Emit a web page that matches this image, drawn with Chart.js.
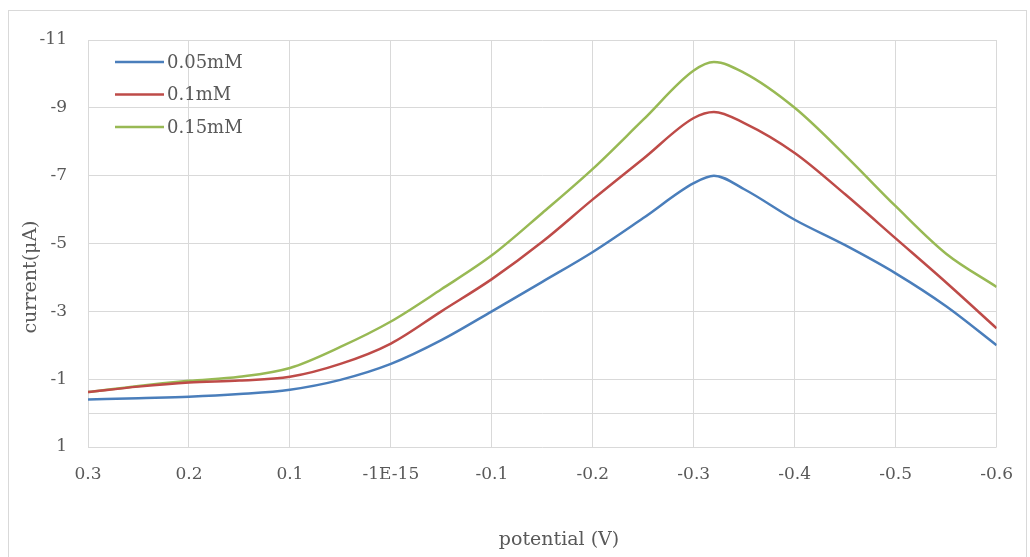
<!DOCTYPE html>
<html>
<head>
<meta charset="utf-8">
<script src="https://cdn.jsdelivr.net/npm/chart.js@4/dist/chart.umd.min.js"></script>
<style>
  body { margin: 0; background: #fff; }
  #chart { display: block; }
</style>
</head>
<body>
<canvas id="chart" width="1030" height="557"></canvas>
<script>
// potential (V) sampled along each sweep
const potential = [0.3, 0.25, 0.2, 0.15, 0.1, 0.05, 0, -0.05, -0.1, -0.15, -0.2, -0.25, -0.3, -0.32, -0.35, -0.4, -0.45, -0.5, -0.55, -0.6];

// current (uA) per concentration
const c005 = [-0.4, -0.44, -0.48, -0.56, -0.69, -0.98, -1.45, -2.15, -3.0, -3.87, -4.75, -5.75, -6.78, -7.0, -6.6, -5.7, -4.95, -4.12, -3.15, -2.0];
const c010 = [-0.62, -0.78, -0.9, -0.96, -1.07, -1.45, -2.05, -3.0, -3.95, -5.05, -6.3, -7.5, -8.7, -8.88, -8.55, -7.67, -6.45, -5.15, -3.85, -2.5];
const c015 = [-0.62, -0.8, -0.95, -1.07, -1.33, -1.95, -2.7, -3.65, -4.65, -5.9, -7.2, -8.65, -10.1, -10.35, -10.03, -9.0, -7.6, -6.1, -4.7, -3.72];

const seriesNames = ['0.05mM', '0.1mM', '0.15mM'];
const seriesColors = ['#4a7ebb', '#be4b48', '#98b954'];

const xTickValues = [0.3, 0.2, 0.1, 0, -0.1, -0.2, -0.3, -0.4, -0.5, -0.6];
const xTickLabels = ['0.3', '0.2', '0.1', '-1E-15', '-0.1', '-0.2', '-0.3', '-0.4', '-0.5', '-0.6'];
const yTickValues = [-11, -9, -7, -5, -3, -1, 1];
const yTickLabels = ['-11', '-9', '-7', '-5', '-3', '-1', '1'];

const textColor = '#595959';
const gridColor = '#d9d9d9';
const serif = "'DejaVu Serif', 'Liberation Serif', serif";

const toPoints = arr => potential.map((p, i) => ({ x: p, y: arr[i] }));

const datasets = [c005, c010, c015].map((arr, i) => ({
  label: seriesNames[i],
  data: toPoints(arr),
  borderColor: seriesColors[i],
  backgroundColor: seriesColors[i],
  borderWidth: 2.5,
  pointRadius: 0,
  cubicInterpolationMode: 'monotone',
  fill: false
}));

// frame, zero line, axis titles and in-plot legend
const extras = {
  id: 'extras',
  beforeDraw(chart) {
    const ctx = chart.ctx;
    ctx.save();
    ctx.fillStyle = '#fff';
    ctx.fillRect(0, 0, chart.width, chart.height);
    ctx.strokeStyle = '#d9d9d9';
    ctx.lineWidth = 1;
    ctx.strokeRect(8.5, 10.5, 1018, 560);
    ctx.restore();
  },
  beforeDatasetsDraw(chart) {
    const ctx = chart.ctx;
    const y0 = Math.round(chart.scales.y.getPixelForValue(0)) + 0.5;
    ctx.save();
    ctx.strokeStyle = gridColor;
    ctx.lineWidth = 1;
    ctx.beginPath();
    ctx.moveTo(chart.chartArea.left, y0);
    ctx.lineTo(chart.chartArea.right, y0);
    ctx.stroke();
    ctx.restore();
  },
  afterDraw(chart) {
    const ctx = chart.ctx;
    ctx.save();
    ctx.fillStyle = textColor;
    ctx.font = '19px ' + serif;
    ctx.textAlign = 'center';
    ctx.textBaseline = 'middle';
    ctx.fillText('potential (V)', 559, 540);
    ctx.translate(31, 277);
    ctx.rotate(-Math.PI / 2);
    ctx.fillText('current(μA)', 0, 0);
    ctx.restore();

    // legend
    ctx.save();
    ctx.font = '18px ' + serif;
    ctx.textBaseline = 'middle';
    ctx.textAlign = 'left';
    chart.data.datasets.forEach((ds, i) => {
      const y = 62 + i * 32.5;
      ctx.strokeStyle = ds.borderColor;
      ctx.lineWidth = 2.5;
      ctx.beginPath();
      ctx.moveTo(115, y);
      ctx.lineTo(164, y);
      ctx.stroke();
      ctx.fillStyle = textColor;
      ctx.fillText(ds.label, 167, y + 1);
    });
    ctx.restore();
  }
};

const ctx = document.getElementById('chart').getContext('2d');
const chart = new Chart(ctx, {
  type: 'line',
  data: { datasets },
  options: {
    responsive: false,
    animation: false,
    layout: { padding: { left: 0, top: 40, right: 33, bottom: 0 } },
    plugins: {
      legend: { display: false },
      tooltip: { enabled: false }
    },
    scales: {
      x: {
        type: 'linear',
        reverse: true,
        min: -0.6,
        max: 0.3,
        afterBuildTicks: scale => { scale.ticks = xTickValues.map(v => ({ value: v })); },
        afterFit: scale => { scale.height = 110; },
        grid: { color: gridColor, drawTicks: false },
        border: { display: false },
        ticks: {
          padding: 17,
          color: textColor,
          font: { family: serif, size: 17 },
          maxRotation: 0,
          callback: (v, i) => xTickLabels[i]
        }
      },
      y: {
        type: 'linear',
        reverse: true,
        min: -11,
        max: 1,
        afterBuildTicks: scale => { scale.ticks = yTickValues.map(v => ({ value: v })); },
        afterFit: scale => { scale.width = 88; },
        grid: { color: gridColor, drawTicks: false },
        border: { display: false },
        ticks: {
          padding: 21,
          color: textColor,
          font: { family: serif, size: 17 },
          callback: (v, i) => yTickLabels[i]
        }
      }
    }
  },
  plugins: [extras]
});
</script>
</body>
</html>
